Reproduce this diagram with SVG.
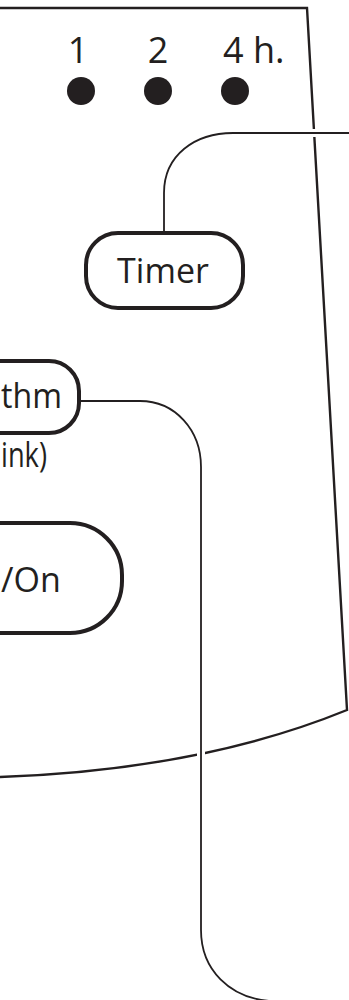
<svg xmlns="http://www.w3.org/2000/svg" width="349" height="1000" viewBox="0 0 349 1000">
<style>
.panel{fill:none;stroke:#231f20;stroke-width:2.4;stroke-linejoin:miter}
.pill{fill:#fff;stroke:#231f20;stroke-width:4}
.lbl{font-family:"Open Sans","Noto Sans",sans-serif;font-size:34px;fill:#231f20}
.num{font-size:36px}
.halo{fill:none;stroke:#fff;stroke-width:8}
.conn{fill:none;stroke:#231f20;stroke-width:1.8}
.dot{fill:#231f20}
</style>
<rect width="349" height="1000" fill="#fff"/>
<g id="panel">
<path class="panel" d="M0,8 L307,8 L347,710 Q200,770 0,777"/>
</g>
<g id="indicators">
<text class="lbl num" x="78" y="63" text-anchor="middle">1</text>
<text class="lbl num" x="158" y="63" text-anchor="middle">2</text>
<text class="lbl num" x="223" y="63">4 h.</text>
<circle class="dot" cx="81" cy="91" r="14"/>
<circle class="dot" cx="158" cy="91" r="14"/>
<circle class="dot" cx="235" cy="91" r="14"/>
</g>
<g id="connectors">
<path class="halo" d="M164,231 L164,193 C164,155 195,133 233,133 L349,133"/>
<path class="conn" d="M164,231 L164,193 C164,155 195,133 233,133 L349,133"/>
<path class="halo" d="M80,401 L140,401 C175,401 201,430 201,467 L201,930 C201,970 230,998 270,1001"/>
<path class="conn" d="M80,401 L140,401 C175,401 201,430 201,467 L201,930 C201,970 230,998 270,1001"/>
</g>
<g id="timer">
<rect class="pill" x="86" y="233" width="157" height="75" rx="32" ry="32"/>
<text class="lbl" x="163" y="283" text-anchor="middle">Timer</text>
</g>
<g id="rhythm">
<rect class="pill" x="-60" y="361" width="139" height="72" rx="30" ry="30"/>
<text class="lbl" x="1" y="408" textLength="61" lengthAdjust="spacingAndGlyphs">thm</text>
<text class="lbl" x="1" y="467" textLength="46" lengthAdjust="spacingAndGlyphs">ink)</text>
</g>
<g id="offon">
<rect class="pill" x="-80" y="523" width="202" height="110" rx="52" ry="52"/>
<text class="lbl" x="1" y="592">/On</text>
</g>
</svg>
